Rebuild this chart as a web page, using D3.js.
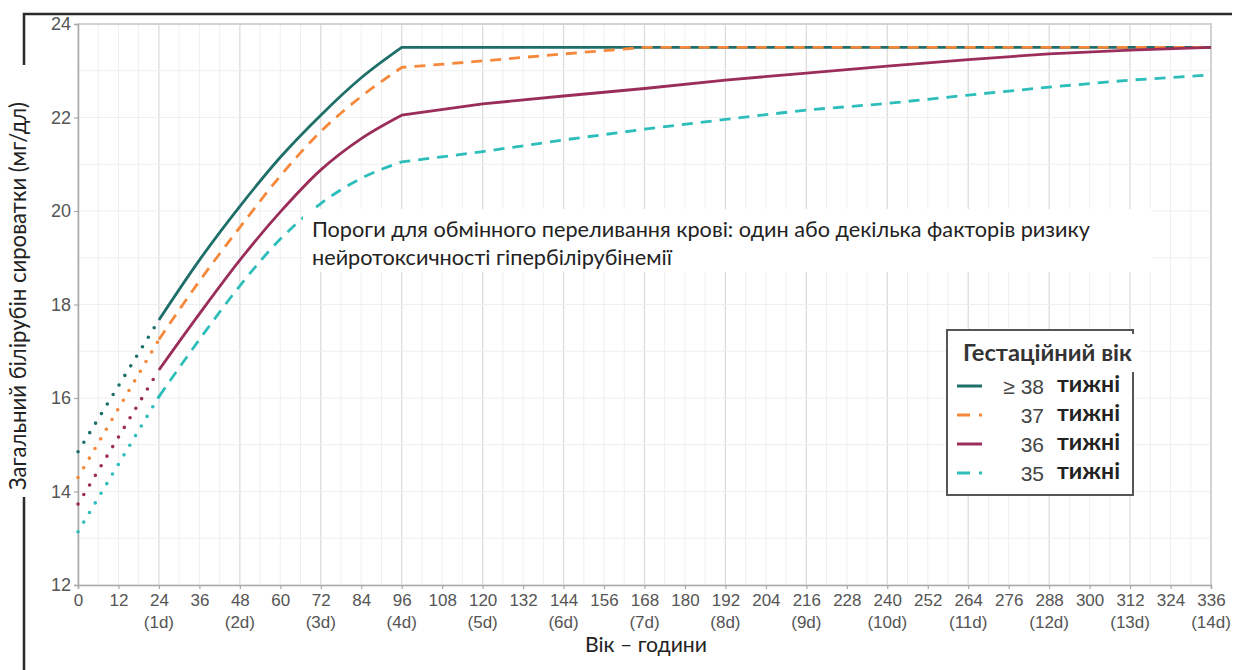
<!DOCTYPE html>
<html>
<head>
<meta charset="utf-8">
<script src="https://cdn.jsdelivr.net/npm/d3@7"></script>
<style>
  html, body { margin: 0; padding: 0; background: #fff; }
  svg { display: block; }
</style>
</head>
<body>
<svg id="chart" width="1234" height="670"></svg>
<script>
// Age in hours for the solid/dashed part of each threshold curve
const hours = [24, 36, 48, 60, 72, 84, 96, 120, 144, 168, 192, 216, 240, 264, 288, 312, 336];
// Exchange transfusion thresholds (mg/dL) by gestational age
const ga38 = [17.67, 18.95, 20.1, 21.15, 22.05, 22.85, 23.5, 23.5, 23.5, 23.5, 23.5, 23.5, 23.5, 23.5, 23.5, 23.5, 23.5];
const ga37 = [17.25, 18.5, 19.65, 20.75, 21.7, 22.45, 23.07, 23.21, 23.36, 23.5, 23.5, 23.5, 23.5, 23.5, 23.5, 23.5, 23.5];
const ga36 = [16.6, 17.8, 18.95, 19.98, 20.88, 21.55, 22.05, 22.29, 22.46, 22.62, 22.8, 22.95, 23.1, 23.24, 23.36, 23.44, 23.5];
const ga35 = [16.03, 17.25, 18.4, 19.4, 20.16, 20.7, 21.05, 21.27, 21.52, 21.75, 21.96, 22.16, 22.3, 22.48, 22.65, 22.8, 22.91];
// Extrapolated (dotted) first-day segment: value at birth for each curve
const earlyHours = [0, 24];
const birthValues = [14.85, 14.3, 13.73, 13.14];

const seriesNames = ["≥ 38", "37", "36", "35"];
const seriesUnit = "тижні";
const seriesColors = ["#1e6e6a", "#f5883a", "#9b2d5a", "#2dbdbb"];
const seriesDashed = [false, true, false, true];

const xTicks = d3.range(0, 337, 12);
const dayLabels = ["(1d)", "(2d)", "(3d)", "(4d)", "(5d)", "(6d)", "(7d)", "(8d)", "(9d)", "(10d)", "(11d)", "(12d)", "(13d)", "(14d)"];
const yTicks = [12, 14, 16, 18, 20, 22, 24];

const xTitle = "Вік – години";
const yTitle = "Загальний білірубін сироватки (мг/дл)";
const noteLines = ["Пороги для обмінного переливання крові: один або декілька факторів ризику",
                   "нейротоксичності гіпербілірубінемії"];
const legendTitle = "Гестаційний вік";

const svg = d3.select("#chart");
const plot = { left: 78, right: 1211, top: 24, bottom: 585 };

const x = d3.scaleLinear().domain([0, 336]).range([plot.left, plot.right]);
const y = d3.scaleLinear().domain([12, 24]).range([plot.bottom, plot.top]);

// Fit a text element to a target width by scaling its font size
function fitWidth(sel, width) {
  const node = sel.node();
  const size = parseFloat(sel.attr("font-size"));
  const len = node.getComputedTextLength();
  if (len > 0) sel.attr("font-size", (size * width / len).toFixed(2));
  return sel;
}

// Grid
const grid = svg.append("g");
grid.selectAll("line.vminor").data(d3.range(0, 337, 6)).join("line")
  .attr("x1", d => x(d)).attr("x2", d => x(d))
  .attr("y1", plot.top).attr("y2", plot.bottom)
  .attr("stroke", d => d % 24 === 0 ? "#dcdcdc" : "#efefef")
  .attr("stroke-width", d => d % 24 === 0 ? 1.3 : 1);
grid.selectAll("line.h").data(d3.range(12, 24.01, 1)).join("line")
  .attr("x1", plot.left).attr("x2", plot.right)
  .attr("y1", d => y(d)).attr("y2", d => y(d))
  .attr("stroke", "#efefef").attr("stroke-width", 1.2);

// Plot frame (top and right)
svg.append("path")
  .attr("d", `M${plot.left},${plot.top}H${plot.right}V${plot.bottom}`)
  .attr("fill", "none").attr("stroke", "#d2d2d2").attr("stroke-width", 2);

// Axes
const xAxis = svg.append("g").attr("transform", `translate(0,${plot.bottom})`)
  .call(d3.axisBottom(x).tickValues(xTicks).tickSize(4).tickPadding(5).tickFormat(d3.format("d")));
const yAxis = svg.append("g").attr("transform", `translate(${plot.left},0)`)
  .call(d3.axisLeft(y).tickValues(yTicks).tickSize(4).tickPadding(3).tickFormat(d3.format("d")));
[xAxis, yAxis].forEach(ax => {
  ax.select(".domain").attr("stroke", "#a8a8a8").attr("stroke-width", 1.5);
  ax.selectAll(".tick line").attr("stroke", "#a8a8a8").attr("stroke-width", 1.2);
  ax.selectAll(".tick text").attr("fill", "#555")
    .attr("font-family", "'Liberation Sans', Arial, sans-serif").attr("font-size", 17);
});
yAxis.selectAll(".tick text").attr("font-size", 18);

// Day labels under every 24 hours
svg.append("g").selectAll("text").data(dayLabels).join("text")
  .attr("x", (d, i) => x((i + 1) * 24)).attr("y", 628)
  .attr("text-anchor", "middle").attr("fill", "#555")
  .attr("font-family", "'Liberation Sans', Arial, sans-serif").attr("font-size", 17)
  .text(d => d);

// Curves: smooth rise to 96 h, straight segments afterwards
const allSeries = [ga38, ga37, ga36, ga35];
const riseLine = d3.line().x(d => x(d[0])).y(d => y(d[1])).curve(d3.curveMonotoneX);
const tailLine = d3.line().x(d => x(d[0])).y(d => y(d[1]));
const curves = svg.append("g");
allSeries.forEach((vals, i) => {
  const pts = hours.map((h, j) => [h, vals[j]]);
  const split = hours.indexOf(96);
  const rise = riseLine(pts.slice(0, split + 1));
  const tail = tailLine(pts.slice(split)).replace(/^M/, "L");
  curves.append("path")
    .attr("d", rise + tail)
    .attr("fill", "none")
    .attr("stroke", seriesColors[i])
    .attr("stroke-width", 2.8)
    .attr("stroke-dasharray", seriesDashed[i] ? "11 8" : null);
  // dotted first-day extrapolation
  curves.append("path")
    .attr("d", tailLine([[earlyHours[0], birthValues[i]], [earlyHours[1], vals[0]]]))
    .attr("fill", "none")
    .attr("stroke", seriesColors[i])
    .attr("stroke-width", 3.6)
    .attr("stroke-linecap", "round")
    .attr("stroke-dasharray", "0 11.2");
});

// Annotation box
const note = svg.append("g");
note.append("rect").attr("x", 303).attr("y", 209).attr("width", 850).attr("height", 63).attr("fill", "#fff");
const n1 = note.append("text").attr("x", 312).attr("y", 237)
  .attr("font-family", "Lato, 'Open Sans', sans-serif").attr("font-size", 18).attr("fill", "#222")
  .text(noteLines[0]);
fitWidth(n1, 778);
note.append("text").attr("x", 312).attr("y", 265)
  .attr("font-family", "Lato, 'Open Sans', sans-serif").attr("font-size", n1.attr("font-size")).attr("fill", "#222")
  .text(noteLines[1]);

// Axis titles
const xt = svg.append("text").attr("x", 646).attr("y", 652).attr("text-anchor", "middle")
  .attr("font-family", "Lato, 'Open Sans', sans-serif").attr("font-size", 18).attr("fill", "#222")
  .text(xTitle);
fitWidth(xt, 122);
const yt = svg.append("text").attr("transform", "translate(26,296) rotate(-90)").attr("text-anchor", "middle")
  .attr("font-family", "Lato, 'Open Sans', sans-serif").attr("font-size", 18).attr("fill", "#222")
  .text(yTitle);
fitWidth(yt, 388);

// Legend
const lg = svg.append("g");
lg.append("rect").attr("x", 947).attr("y", 330).attr("width", 186).attr("height", 165)
  .attr("fill", "#fff").attr("stroke", "#555").attr("stroke-width", 2);
lg.append("rect").attr("x", 1090).attr("y", 334).attr("width", 50).attr("height", 38).attr("fill", "#fff");
const lt = lg.append("text").attr("x", 963).attr("y", 361)
  .attr("font-family", "Lato, 'Open Sans', sans-serif").attr("font-weight", "bold")
  .attr("font-size", 18).attr("fill", "#333").text(legendTitle);
fitWidth(lt, 169);
const rowY = [386, 415, 444, 473];
seriesNames.forEach((name, i) => {
  lg.append("line").attr("x1", 957).attr("x2", 982).attr("y1", rowY[i]).attr("y2", rowY[i])
    .attr("stroke", seriesColors[i]).attr("stroke-width", 3)
    .attr("stroke-dasharray", seriesDashed[i] ? "13 9" : null);
  lg.append("text").attr("x", 1044).attr("y", rowY[i] + 8).attr("text-anchor", "end")
    .attr("font-family", "'Liberation Sans', Arial, sans-serif").attr("font-size", 21).attr("fill", "#444")
    .text(name);
  const u = lg.append("text").attr("x", 1057).attr("y", rowY[i] + 6)
    .attr("font-family", "Lato, 'Open Sans', sans-serif").attr("font-weight", "bold")
    .attr("font-size", 17).attr("fill", "#222").text(seriesUnit);
  fitWidth(u, 63);
});

// Page frame strokes
const frame = svg.append("g").attr("stroke", "#2a2a2a").attr("stroke-width", 2.5).attr("fill", "none");
frame.append("path").attr("d", "M24,65V14H1232");
frame.append("path").attr("d", "M24,497V670");
</script>
</body>
</html>
